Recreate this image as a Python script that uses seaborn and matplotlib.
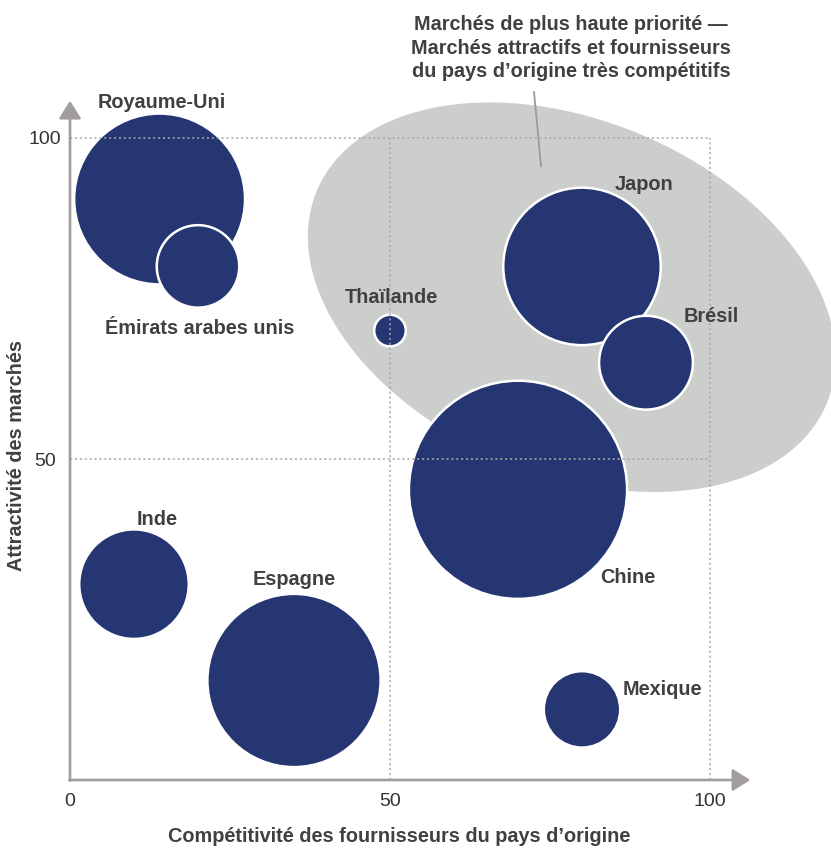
import matplotlib
matplotlib.use("Agg")
import numpy as np
import pandas as pd
import seaborn as sns
import matplotlib.pyplot as plt
from matplotlib.patches import Ellipse

# ---------------- data ----------------
pays = ["Royaume-Uni", "Émirats arabes unis", "Thaïlande", "Japon", "Brésil",
        "Chine", "Inde", "Espagne", "Mexique"]
competitivite = [14, 20, 50, 80, 90, 70, 10, 35, 80]
attractivite = [90.5, 80, 70, 80, 65, 45.2, 30.5, 15.5, 11]
taille = [73, 17, 2.5, 62, 22, 119, 30, 75, 14.6]
# label offsets (pixels) relative to bubble centre
label_dx = [2, 1.5, 1, 62, 65, 110, 23, 0, 80]
label_dy = [96, -62, 33, 82, 46, -88, 65, 101, 20]

x_ticks = [0, 50, 100]
y_ticks = [50, 100]
x_label = "Compétitivité des fournisseurs du pays d’origine"
y_label = "Attractivité des marchés"
titre = ("Marchés de plus haute priorité —\n"
         "Marchés attractifs et fournisseurs\n"
         "du pays d’origine très compétitifs")

# highlighted zone (ellipse) in data units
zone_centre = (78.4, 75.2)
zone_largeur = 86.3
zone_hauteur = 55.1
zone_angle = -22.5

NAVY = "#263673"
ZONE = "#cbcecb"
TXT = "#404040"
AXC = "#a19d9d"
GRID = "#a8a8a8"
FS = 14.3

sns.set_theme(style="white")
plt.rcParams["font.family"] = ["Liberation Sans", "DejaVu Sans"]

fig = plt.figure(figsize=(8.31, 8.52), dpi=100)
ax = fig.add_axes([70 / 831, 72 / 852, 640 / 831, 642 / 852])
ax.set_xlim(0, 100)
ax.set_ylim(0, 100)
for s in ax.spines.values():
    s.set_visible(False)

# zone
ax.add_patch(Ellipse(zone_centre, zone_largeur, zone_hauteur, angle=zone_angle,
                     facecolor=ZONE, edgecolor="none", zorder=0, clip_on=False))

df = pd.DataFrame({"pays": pays, "x": competitivite, "y": attractivite, "taille": taille})
vmax = max(taille)
K = 207.36
sns.scatterplot(data=df, x="x", y="y", size="taille", sizes=(0, K * vmax),
                size_norm=(0, vmax), color=NAVY, edgecolor="white", linewidth=1.8,
                alpha=1, legend=False, ax=ax, clip_on=False, zorder=2)

# dotted reference lines
dot = (0, (1.4, 1.8))
for v in [50, 100]:
    ax.plot([v, v], [0, 100], color=GRID, lw=1.1, ls=dot, zorder=3, clip_on=False)
    ax.plot([0, 100], [v, v], color=GRID, lw=1.1, ls=dot, zorder=3, clip_on=False)

# axes arrows
arrow = dict(arrowstyle="-|>,head_length=10.8,head_width=6.8", mutation_scale=1,
             color=AXC, lw=1.9, shrinkA=0, shrinkB=0)
ax.annotate("", xy=(0, 105.8), xytext=(0, -0.1), arrowprops=arrow,
            annotation_clip=False, zorder=4)
ax.annotate("", xy=(106.3, 0), xytext=(-0.1, 0), arrowprops=arrow,
            annotation_clip=False, zorder=4)

# ticks
ax.set_xticks(x_ticks)
ax.set_yticks(y_ticks)
ax.tick_params(length=0, labelsize=14, colors="#333333")
ax.tick_params(axis="x", pad=9.5)
ax.tick_params(axis="y", pad=18)
for lab in ax.get_yticklabels():
    lab.set_horizontalalignment("center")

ax.set_xlabel(x_label, fontsize=FS, fontweight="bold", color=TXT)
ax.set_ylabel(y_label, fontsize=FS, fontweight="bold", color=TXT)
ax.xaxis.set_label_coords(0.514, -0.073)
ax.yaxis.set_label_coords(-0.069, 0.506)

# bubble labels
for name, x, y, dx, dy in zip(pays, competitivite, attractivite, label_dx, label_dy):
    ax.annotate(name, (x, y), xytext=(dx, dy), textcoords="offset pixels",
                ha="center", va="center", fontsize=FS, fontweight="bold",
                color=TXT, annotation_clip=False, zorder=5)

# title + leader line
fig.text(571 / 831, 1 - 48 / 852, titre, ha="center", va="center", fontsize=FS,
         fontweight="bold", color=TXT, linespacing=1.3)
ax.plot([72.5, 73.6], [107.2, 95.6], color="#9a9a9a", lw=1.3, clip_on=False, zorder=1)

fig.savefig("out.png", dpi=100)
